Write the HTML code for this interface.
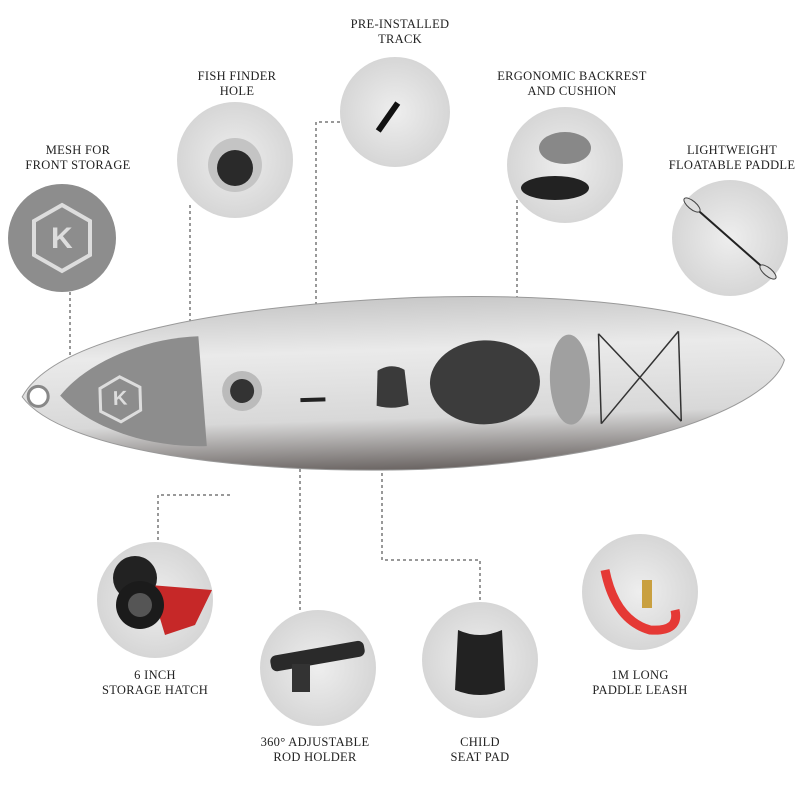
<!DOCTYPE html>
<html><head><meta charset="utf-8"><style>
html,body{margin:0;padding:0;background:#fff;width:800px;height:800px;overflow:hidden}
svg text{font-family:"Liberation Serif",serif;font-size:12.5px;fill:#222;text-anchor:middle;letter-spacing:0.3px}
</style></head><body>
<svg width="800" height="800" viewBox="0 0 800 800" xmlns="http://www.w3.org/2000/svg">
<defs>
<radialGradient id="g" cx="50%" cy="50%" r="50%"><stop offset="0" stop-color="#eeeeee"/><stop offset="1" stop-color="#d6d6d6"/></radialGradient>
<linearGradient id="k" x1="0" y1="0" x2="0" y2="1"><stop offset="0" stop-color="#c8c8c8"/><stop offset="0.3" stop-color="#eaeaea"/><stop offset="0.7" stop-color="#d8d8d8"/><stop offset="1" stop-color="#6a6462"/></linearGradient>
</defs>
<!-- labels -->
<text x="400" y="28">PRE-INSTALLED</text><text x="400" y="43">TRACK</text>
<text x="237" y="80">FISH FINDER</text><text x="237" y="95">HOLE</text>
<text x="78" y="154">MESH FOR</text><text x="78" y="169">FRONT STORAGE</text>
<text x="572" y="80">ERGONOMIC BACKREST</text><text x="572" y="95">AND CUSHION</text>
<text x="732" y="154">LIGHTWEIGHT</text><text x="732" y="169">FLOATABLE PADDLE</text>
<text x="155" y="679">6 INCH</text><text x="155" y="694">STORAGE HATCH</text>
<text x="315" y="746">360° ADJUSTABLE</text><text x="315" y="761">ROD HOLDER</text>
<text x="480" y="746">CHILD</text><text x="480" y="761">SEAT PAD</text>
<text x="640" y="679">1M LONG</text><text x="640" y="694">PADDLE LEASH</text>
<!-- dashed connectors -->
<g stroke="#333" stroke-width="1" stroke-dasharray="3,3" fill="none">
<path d="M70 292 V370"/><path d="M190 205 V350"/><path d="M340 122 H316 V395"/>
<path d="M517 200 V312"/><path d="M158 540 V495 H230"/><path d="M300 610 V425"/>
<path d="M382 395 V560 H480 V600"/>
</g>
<!-- circles -->
<circle cx="62" cy="238" r="54" fill="#8d8d8d"/>
<polygon points="62,205 90,221 90,255 62,271 34,255 34,221" fill="none" stroke="#ddd" stroke-width="4"/>
<text x="62" y="248" style="font-size:30px;fill:#ddd;font-family:'Liberation Sans',sans-serif;font-weight:bold">K</text>
<circle cx="235" cy="160" r="58" fill="url(#g)"/>
<circle cx="235" cy="165" r="27" fill="#c4c4c4"/><circle cx="235" cy="168" r="18" fill="#2a2a2a"/>
<circle cx="395" cy="112" r="55" fill="url(#g)"/>
<rect x="385" y="100" width="6" height="34" fill="#111" transform="rotate(35 388 117)"/>
<circle cx="565" cy="165" r="58" fill="url(#g)"/>
<ellipse cx="565" cy="148" rx="26" ry="16" fill="#888"/><ellipse cx="555" cy="188" rx="34" ry="12" fill="#222"/>
<circle cx="730" cy="238" r="58" fill="url(#g)"/>
<line x1="692" y1="205" x2="768" y2="272" stroke="#222" stroke-width="2"/>
<ellipse cx="692" cy="205" rx="10" ry="4" fill="#ddd" stroke="#444" transform="rotate(40 692 205)"/>
<ellipse cx="768" cy="272" rx="10" ry="4" fill="#ddd" stroke="#444" transform="rotate(40 768 272)"/>
<circle cx="155" cy="600" r="58" fill="url(#g)"/>
<path d="M150 585 L212 590 L195 625 L165 635 Z" fill="#c62828"/>
<circle cx="135" cy="578" r="22" fill="#222"/><circle cx="140" cy="605" r="24" fill="#1b1b1b"/><circle cx="140" cy="605" r="12" fill="#555"/>
<circle cx="318" cy="668" r="58" fill="url(#g)"/>
<rect x="270" y="648" width="95" height="16" rx="6" fill="#2a2a2a" transform="rotate(-10 318 656)"/>
<rect x="292" y="664" width="18" height="28" fill="#333"/>
<circle cx="480" cy="660" r="58" fill="url(#g)"/>
<path d="M458 630 Q480 640 502 630 L505 690 Q480 700 455 690 Z" fill="#222"/>
<circle cx="640" cy="592" r="58" fill="url(#g)"/>
<path d="M605 570 Q615 620 650 630 Q680 632 675 610" stroke="#e53935" stroke-width="9" fill="none"/>
<rect x="642" y="580" width="10" height="28" fill="#c9a040"/>
<!-- kayak -->
<g transform="rotate(-1.8 400 385)">
<path d="M22 385 C60 320 250 300 420 298 C620 298 760 330 785 372 C770 420 620 468 420 470 C240 470 60 440 22 385 Z" fill="url(#k)" stroke="#999"/>
<circle cx="38" cy="385" r="10" fill="#fff" stroke="#888" stroke-width="3"/>
<path d="M60 385 C90 350 150 330 200 330 L205 440 C150 440 90 420 60 385 Z" fill="#8d8d8d"/>
<polygon points="120,368 140,379 140,402 120,413 100,402 100,379" fill="none" stroke="#ddd" stroke-width="3"/>
<text x="120" y="396" style="font-size:20px;fill:#ddd;font-family:'Liberation Sans',sans-serif;font-weight:bold">K</text>
<circle cx="242" cy="386" r="20" fill="#bbb"/><circle cx="242" cy="386" r="12" fill="#333"/>
<path d="M378 370 Q392 362 405 370 L408 405 Q392 410 376 405 Z" fill="#3a3a3a"/>
<ellipse cx="485" cy="385" rx="55" ry="42" fill="#3c3c3c"/>
<ellipse cx="570" cy="385" rx="20" ry="45" fill="#a0a0a0"/>
<path d="M600 340 L680 430 M600 430 L680 340 M600 340 V430 M680 340 V430" stroke="#333" stroke-width="1.5" fill="none"/>
<rect x="300" y="395" width="25" height="4" fill="#222"/>
</g>
</svg>
</body></html>
